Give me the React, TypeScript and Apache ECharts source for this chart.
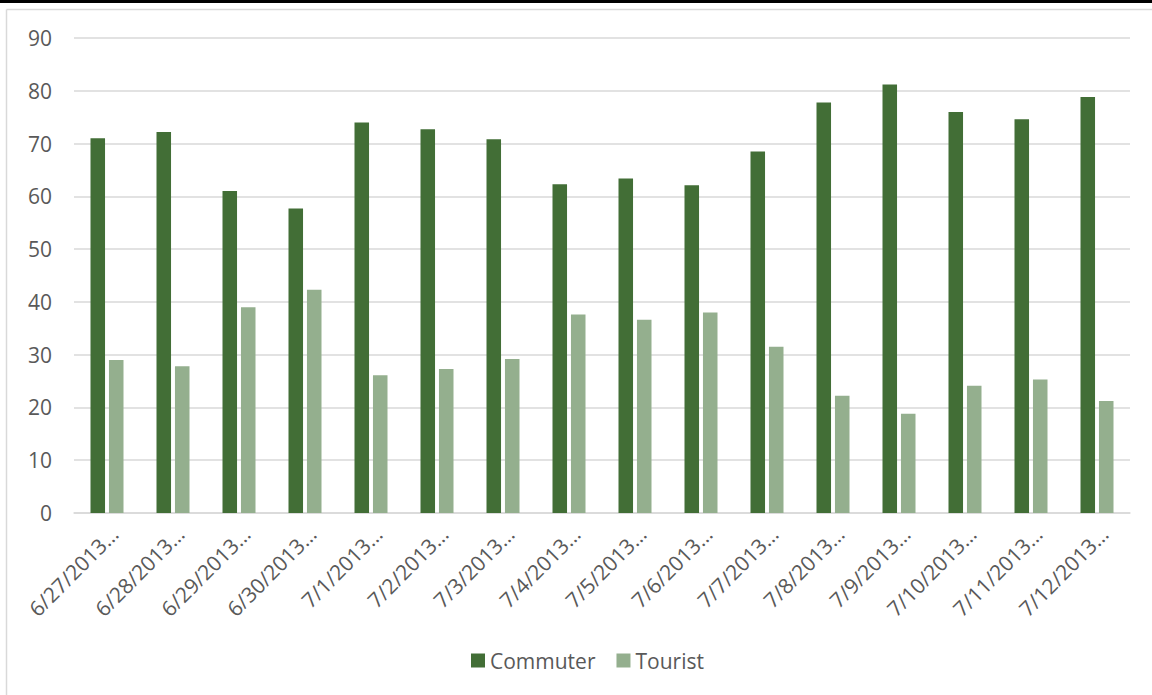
import React, { useEffect, useRef } from "react";
import * as echarts from "echarts";

const categories = [
  "6/27/2013", "6/28/2013", "6/29/2013", "6/30/2013", "7/1/2013", "7/2/2013",
  "7/3/2013", "7/4/2013", "7/5/2013", "7/6/2013", "7/7/2013", "7/8/2013",
  "7/9/2013", "7/10/2013", "7/11/2013", "7/12/2013",
];
const commuter = [71.0, 72.2, 61.0, 57.7, 74.0, 72.7, 70.8, 62.3, 63.4, 62.1, 68.5, 77.8, 81.2, 76.0, 74.6, 78.8];
const tourist = [29.0, 27.8, 39.0, 42.3, 26.1, 27.3, 29.2, 37.6, 36.6, 38.0, 31.5, 22.2, 18.8, 24.1, 25.3, 21.2];
const yTicks = { min: 0, max: 90, interval: 10 };

const FONT = "'Open Sans', 'Noto Sans', sans-serif";
const TEXT = "#595959";
const GRID = "#d9d9d9";

export default function App() {
  const ref = useRef<HTMLDivElement>(null);
  useEffect(() => {
    document.body.style.margin = "0";
    const chart = echarts.init(ref.current!, null, { renderer: "svg" });
    chart.setOption({
      animation: false,
      backgroundColor: "#ffffff",
      textStyle: { fontFamily: FONT },
      graphic: [
        { type: "rect", shape: { x: 0, y: 0, width: 1152, height: 3 }, style: { fill: "#000" }, silent: true },
        { type: "line", shape: { x1: 6.5, y1: 9.5, x2: 1152, y2: 9.5 }, style: { stroke: GRID, lineWidth: 1.5 }, silent: true },
        { type: "line", shape: { x1: 6.5, y1: 9.5, x2: 6.5, y2: 695 }, style: { stroke: GRID, lineWidth: 1.5 }, silent: true },
      ],
      grid: { left: 74, right: 22, top: 38, bottom: 182, containLabel: false },
      legend: {
        bottom: 19,
        left: 466,
        itemWidth: 14,
        itemHeight: 14,
        itemGap: 21,
        icon: "rect",
        textStyle: { color: TEXT, fontSize: 21, fontFamily: FONT },
        data: ["Commuter", "Tourist"],
      },
      xAxis: {
        type: "category",
        data: categories,
        axisLine: { lineStyle: { color: GRID, width: 1.5 } },
        axisTick: { show: false },
        axisLabel: {
          color: TEXT,
          fontSize: 21,
          fontFamily: FONT,
          rotate: 45,
          margin: 10,
          verticalAlign: "top",
          interval: 0,
          formatter: (v: string) => v + "…",
        },
      },
      yAxis: {
        type: "value",
        min: yTicks.min,
        max: yTicks.max,
        interval: yTicks.interval,
        axisLine: { show: false },
        axisTick: { show: false },
        splitLine: { lineStyle: { color: GRID, width: 1.5 } },
        axisLabel: { color: TEXT, fontSize: 21, fontFamily: FONT, margin: 22 },
      },
      series: [
        {
          name: "Commuter",
          type: "bar",
          data: commuter,
          itemStyle: { color: "#426e36" },
          barGap: "27%",
          barCategoryGap: "50%",
        },
        {
          name: "Tourist",
          type: "bar",
          data: tourist,
          itemStyle: { color: "#94af8e" },
          barGap: "27%",
          barCategoryGap: "50%",
        },
      ],
    });
    return () => chart.dispose();
  }, []);
  return <div ref={ref} style={{ position: "absolute", left: 0, top: 0, width: 1152, height: 695 }} />;
}
